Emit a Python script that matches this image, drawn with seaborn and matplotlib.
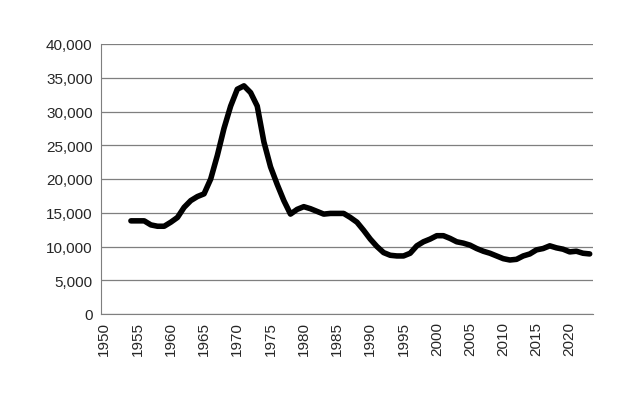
import matplotlib
matplotlib.use("Agg")
import matplotlib.pyplot as plt
import seaborn as sns
import numpy as np
import pandas as pd

years = list(range(1954, 2024))
values = [13800,13800,13800,13200,13000,13000,13600,14300,15800,16800,17400,17800,20000,23500,27500,30800,33300,33800,32800,30800,25500,21800,19200,16800,14800,15500,15900,15600,15200,14800,14900,14900,14900,14300,13600,12400,11100,10000,9100,8700,8600,8600,9000,10100,10700,11100,11600,11600,11200,10700,10500,10200,9700,9300,9000,8600,8200,8000,8100,8600,8900,9500,9700,10100,9800,9600,9200,9300,9000,8900]
tick_years = list(range(1950, 2025, 5))

sns.set_style("white")
plt.rcParams['font.family'] = ['Liberation Sans', 'DejaVu Sans']
fig = plt.figure(figsize=(6.25, 4.02), dpi=100)
ax = fig.add_axes([101/625, 1-315/402, (593-101)/625, (315-45)/402])
df = pd.DataFrame({"year": years, "value": values})
sns.lineplot(data=df, x="year", y="value", ax=ax, color="black", linewidth=4, solid_capstyle="round")
ax.set_xlim(1949.5, 2023.5)
ax.set_ylim(0, 40000)
ax.set_yticks(range(0, 40001, 5000))
ax.set_yticklabels([f"{v:,}" for v in range(0, 40001, 5000)], fontsize=11)
ax.yaxis.grid(True, color="#7f7f7f", linewidth=0.9)
ax.set_xticks(tick_years)
ax.set_xticklabels([str(y) for y in tick_years], rotation=90, fontsize=11)
ax.set_xticks(np.arange(1949.5, 2024, 1), minor=True)
ax.tick_params(axis="x", which="major", length=0, pad=5)
ax.tick_params(axis="x", which="minor", length=5, color="#7f7f7f", direction="out")
ax.tick_params(axis="y", length=0, pad=6)
for s in ["top", "right"]:
    ax.spines[s].set_visible(False)
for s in ["left", "bottom"]:
    ax.spines[s].set_color("#7f7f7f")
ax.set_xlabel("")
ax.set_ylabel("")
fig.savefig("out.png", dpi=100)
